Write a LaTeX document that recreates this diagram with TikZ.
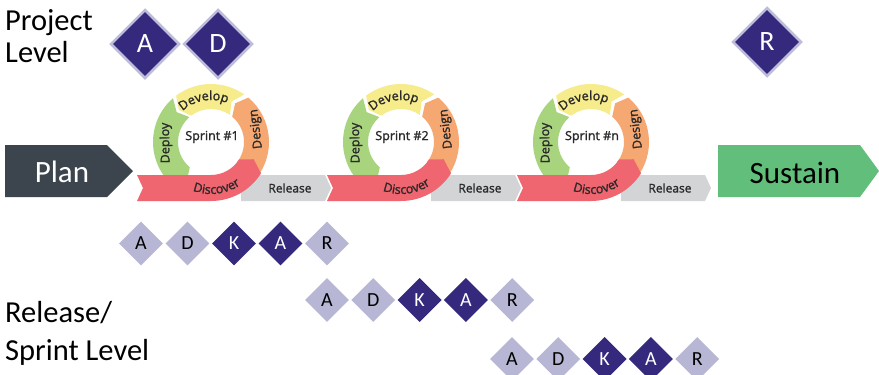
\documentclass[tikz,border=0pt]{standalone}
\usepackage{fontspec}
\setmainfont{Carlito}
\newfontfamily\ringfont{Open Sans}[FakeBold=1.6]
\usetikzlibrary{shapes.geometric,decorations.text}

\definecolor{planC}{HTML}{3C454D}
\definecolor{sustainC}{HTML}{61BE7B}
\definecolor{indigo}{HTML}{35297E}
\definecolor{lavender}{HTML}{B7B7D5}
\definecolor{rimC}{HTML}{BDBDDB}
\definecolor{yellowC}{HTML}{F7EC8C}
\definecolor{orangeC}{HTML}{F6A873}
\definecolor{greenC}{HTML}{A9D47E}
\definecolor{redC}{HTML}{EF6670}
\definecolor{greyC}{HTML}{D3D4D6}
\definecolor{ringtext}{HTML}{2A2A2A}

\newcommand\segfont{\color{ringtext}\ringfont\fontsize{12.5}{12.5}\selectfont}
% one arrow-shaped piece of the sprint ring: start angle, end angle, colour
\newcommand\ringseg[3]{%
  \fill[#3] (#1:58) arc[start angle=#1, end angle=#2, radius=58]
    -- (#2+8:45.5) -- (#2:33) arc[start angle=#2, end angle=#1, radius=33]
    -- (#1+8:45.5) -- cycle;}

\tikzset{
  bigdia/.style={diamond, fill=indigo, draw=rimC, line width=2.5pt,
    minimum size=69pt, inner sep=0pt, text=white,
    font=\fontsize{28}{28}\selectfont},
  lightdia/.style={diamond, fill=lavender, minimum size=44pt, inner sep=0pt,
    text=black, font=\fontsize{20}{20}\selectfont},
  darkdia/.style={lightdia, fill=indigo, text=white},
  levellabel/.style={anchor=base west, inner sep=0pt,
    font=\fontsize{30.5}{31}\selectfont},
  phasetext/.style={inner sep=0pt, font=\fontsize{31}{31}\selectfont},
  ringlabel/.style={inner sep=0pt, font=\segfont},
  segtext/.style={decorate, decoration={text along path, text align=center}},
}

\begin{document}
\begin{tikzpicture}[x=1pt,y=1pt]
\useasboundingbox (0,0) rectangle (879,-375);
\fill[white] (0,0) rectangle (879,-375);

% level labels
\node[levellabel] (projA) at (5,-30) {Project};
\node[levellabel] (projB) at (5,-62) {Level};
\node[levellabel] (relA) at (5,-322) {Release/};
\node[levellabel] (relB) at (5,-360) {Sprint Level};

% project-level diamonds
\node[bigdia] (pA) at (145,-44) {A};
\node[bigdia] (pD) at (218,-44) {D};
\node[bigdia] (pR) at (767,-42) {R};

% plan and sustain arrows
\fill[planC] (5,-145) -- (107,-145) -- (133,-171) -- (107,-197) -- (5,-197) -- cycle;
\node[phasetext, text=white] (plan) at (62,-172) {Plan};
\fill[sustainC] (718,-145) -- (860,-145) -- (879,-171) -- (860,-197) -- (718,-197) -- cycle;
\node[phasetext, text=black] (sustain) at (795,-172.5) {Sustain};

% sprint cycles
\foreach \k/\lab in {0/1,1/2,2/n}{
  \begin{scope}[shift={(211+190*\k,-142)}]
    \ringseg{131}{230}{greenC}
    \ringseg{55}{127}{yellowC}
    \ringseg{-38}{50}{orangeC}
    \fill[greyC] (30,-33) -- (114,-33) -- (120,-46) -- (114,-59) -- (30,-59) -- cycle;
    \fill[redC] (-74,-33) -- (0,-33) arc[start angle=270, end angle=328, radius=33]
      -- (338:46) -- (328:59) arc[start angle=328, end angle=270, radius=59]
      -- (-74,-59) -- (-68,-46) -- cycle;
    \node[ringlabel] (sprint\k) at (1,5) {Sprint \#\lab};
    \node[ringlabel, font=\segfont\fontsize{12}{12}\selectfont] (rel\k) at (79,-46) {Release};
    \node[ringlabel, rotate=97] (design\k) at (45.5,13) {Design};
    \node[ringlabel, rotate=91] (deploy\k) at (-45,-1) {Deploy};
    \path[segtext, decoration={text={|\segfont|Develop}}]
      (132:42) arc[start angle=132, end angle=68, radius=42];
    \path[segtext, decoration={text={|\segfont|Discover}}]
      (243:52) arc[start angle=243, end angle=311, radius=52];
  \end{scope}
}

% release / sprint level ADKAR rows
\foreach \l/\s [count=\i from 0] in {A/lightdia,D/lightdia,K/darkdia,A/darkdia,R/lightdia}{
  \node[\s] (ra\i) at (141+46.5*\i,-243.5) {\l};
  \node[\s] (rb\i) at (327+46.3*\i,-300) {\l};
  \node[\s] (rc\i) at (512+46.3*\i,-359) {\l};
}
\end{tikzpicture}
\end{document}
